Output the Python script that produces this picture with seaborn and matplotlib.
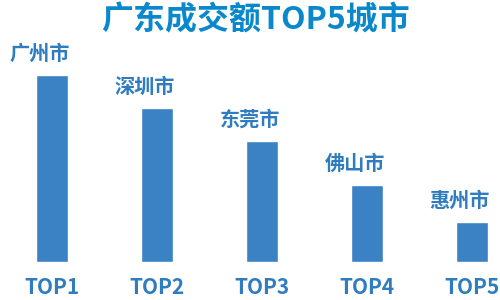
import matplotlib
matplotlib.use("Agg")
import matplotlib.pyplot as plt
import seaborn as sns
import pandas as pd

ranks = ["TOP1", "TOP2", "TOP3", "TOP4", "TOP5"]
cities = ["广州市", "深圳市", "东莞市", "佛山市", "惠州市"]
values = [187, 154, 121, 77, 40]

sns.set_theme(style="white")
plt.rcParams["font.family"] = ["Noto Sans CJK SC", "DejaVu Sans"]

BAR = "#3a82c4"
LABEL = "#2f7dc0"
TITLE = "#0a88cc"

fig = plt.figure(figsize=(5, 3), dpi=100)
ax = fig.add_axes([0, 1 - 262 / 300, 1, (262 - 40) / 300])
df = pd.DataFrame({"rank": ranks, "value": values, "city": cities})
sns.barplot(data=df, x="rank", y="value", color=BAR, width=0.305,
            saturation=1, ax=ax)
ax.set_xlim(-0.495, 4.267)
ax.set_ylim(0, 222)
sns.despine(ax=ax, left=True, bottom=True)
ax.set_yticks([])
ax.set_xlabel("")
ax.set_ylabel("")
ax.tick_params(axis="x", length=0, pad=11, labelsize=15, labelcolor=LABEL)
for lbl in ax.get_xticklabels():
    lbl.set_fontweight("heavy")

for patch, city in zip(ax.patches, df["city"]):
    ax.annotate(city, (patch.get_x() + patch.get_width(), patch.get_height()),
                xytext=(2, 11), textcoords="offset pixels", ha="right",
                va="bottom", fontsize=14.5, fontweight="heavy", color=LABEL,
                annotation_clip=False)

fig.text(0.512, 1 - 20 / 300, "广东成交额TOP5城市", ha="center", va="center",
         fontsize=23, fontweight="heavy", color=TITLE)

fig.savefig("out.png", dpi=100)
